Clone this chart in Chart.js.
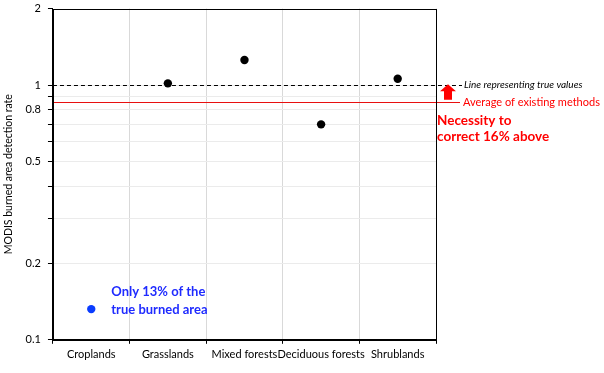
<!DOCTYPE html>
<html lang="en">
<head>
<meta charset="UTF-8">
<title>MODIS burned area detection rate</title>
<script src="https://cdn.jsdelivr.net/npm/chart.js"></script>
<style>
    html, body { margin: 0; padding: 0; background: #fff; overflow: hidden; }
    .chart-container { width: 604px; height: 373px; position: relative; overflow: hidden; }
    #rateChart { display: block; margin-top: -5px; }
</style>
</head>
<body>
<div class="chart-container">
    <canvas id="rateChart" width="604" height="378"></canvas>
</div>
<script>
    const categories = ['Croplands', 'Grasslands', 'Mixed forests', 'Deciduous forests', 'Shrublands'];
    const detectionRate = [0.132, 1.017, 1.257, 0.702, 1.06];
    const pointColors = ['#0a3cff', '#000000', '#000000', '#000000', '#000000'];
    const yTickValues = [0.1, 0.2, 0.3, 0.4, 0.5, 0.6, 0.7, 0.8, 0.9, 1, 2];
    const yTickLabels = [0.1, 0.2, 0.5, 0.8, 1, 2];
    const trueValue = 1;
    const existingAverage = 0.862;

    const font = 'Lato, "Liberation Sans", sans-serif';

    // reference lines, arrow and notes
    const notes = {
        id: 'notes',
        beforeDatasetsDraw(chart) {
            const { ctx, chartArea, scales } = chart;
            const yTrue = scales.y.getPixelForValue(trueValue);
            const yAvg = scales.y.getPixelForValue(existingAverage);
            ctx.save();
            ctx.lineWidth = 1;
            ctx.strokeStyle = '#000';
            ctx.setLineDash([4, 3]);
            ctx.beginPath();
            ctx.moveTo(chartArea.left, Math.round(yTrue) + 0.5);
            ctx.lineTo(chartArea.right + 26, Math.round(yTrue) + 0.5);
            ctx.stroke();
            ctx.setLineDash([]);
            ctx.strokeStyle = '#e81010';
            ctx.beginPath();
            ctx.moveTo(chartArea.left, Math.round(yAvg) + 0.5);
            ctx.lineTo(chartArea.right + 24, Math.round(yAvg) + 0.5);
            ctx.stroke();
            ctx.restore();
        },
        afterDraw(chart) {
            const { ctx, chartArea, scales } = chart;
            const yTrue = scales.y.getPixelForValue(trueValue);
            const yAvg = scales.y.getPixelForValue(existingAverage);
            ctx.save();
            // plot frame
            ctx.strokeStyle = '#000';
            ctx.lineWidth = 1;
            ctx.strokeRect(Math.round(chartArea.left) + 0.5, Math.round(chartArea.top) + 0.5,
                Math.round(chartArea.right - chartArea.left), Math.round(chartArea.bottom - chartArea.top));

            // red arrow
            const ax = chartArea.right + 12;
            ctx.fillStyle = '#ff0000';
            ctx.beginPath();
            ctx.moveTo(ax, yTrue - 1);
            ctx.lineTo(ax + 8, yTrue + 6);
            ctx.lineTo(ax + 4, yTrue + 6);
            ctx.lineTo(ax + 4, yAvg - 2);
            ctx.lineTo(ax - 4, yAvg - 2);
            ctx.lineTo(ax - 4, yTrue + 6);
            ctx.lineTo(ax - 8, yTrue + 6);
            ctx.closePath();
            ctx.fill();

            ctx.textBaseline = 'middle';
            ctx.textAlign = 'left';
            ctx.fillStyle = '#000';
            ctx.font = 'italic 10px ' + font;
            ctx.fillText('Line representing true values', chartArea.right + 28, yTrue);
            ctx.fillStyle = '#ff0000';
            ctx.font = '11px ' + font;
            ctx.fillText('Average of existing methods', chartArea.right + 27, yAvg + 1);
            ctx.font = 'bold 13.5px ' + font;
            ctx.fillText('Necessity to', chartArea.right + 1, yAvg + 19);
            ctx.fillText('correct 16% above', chartArea.right + 1, yAvg + 35);

            const xCrop = scales.x.getPixelForValue(0);
            const yCrop = scales.y.getPixelForValue(detectionRate[0]);
            ctx.fillStyle = '#1f2bff';
            ctx.font = 'bold 13px ' + font;
            ctx.fillText('Only 13% of the', xCrop + 20, yCrop - 17);
            ctx.fillText('true burned area', xCrop + 20, yCrop + 1);
            ctx.restore();
        }
    };

    const ctx = document.getElementById('rateChart').getContext('2d');
    const chart = new Chart(ctx, {
        type: 'line',
        data: {
            labels: categories,
            datasets: [{
                data: detectionRate,
                showLine: false,
                pointRadius: 4.2,
                pointHoverRadius: 4.2,
                pointBackgroundColor: pointColors,
                pointBorderColor: pointColors,
                pointBorderWidth: 0
            }]
        },
        options: {
            responsive: false,
            animation: false,
            maintainAspectRatio: false,
            layout: {
                padding: { top: 0, right: 168, bottom: 8, left: 2 }
            },
            plugins: {
                legend: { display: false },
                tooltip: { enabled: false }
            },
            scales: {
                x: {
                    type: 'category',
                    offset: true,
                    grid: {
                        offset: true,
                        color: '#d9d9d9',
                        tickColor: '#000',
                        tickLength: 4
                    },
                    border: { color: '#000' },
                    ticks: {
                        color: '#000',
                        font: { family: font, size: 11 },
                        padding: 4,
                        maxRotation: 0,
                        autoSkip: false
                    }
                },
                y: {
                    type: 'logarithmic',
                    min: 0.1,
                    max: 2,
                    afterBuildTicks(scale) {
                        scale.ticks = yTickValues.map(v => ({ value: v }));
                    },
                    grid: {
                        color: c => (c.tick && (c.tick.value === 0.1 || c.tick.value === 2)) ? 'rgba(0,0,0,0)' : '#ebebeb',
                        tickColor: '#000',
                        tickLength: 5
                    },
                    border: { color: '#000' },
                    ticks: {
                        color: '#000',
                        font: { family: font, size: 11 },
                        padding: 7,
                        autoSkip: false,
                        callback: v => yTickLabels.includes(v) ? String(v) : ''
                    },
                    title: {
                        display: true,
                        text: 'MODIS burned area detection rate',
                        color: '#000',
                        font: { family: font, size: 10.5 },
                        padding: { top: 0, bottom: 4 }
                    }
                }
            }
        },
        plugins: [notes]
    });
</script>
</body>
</html>
